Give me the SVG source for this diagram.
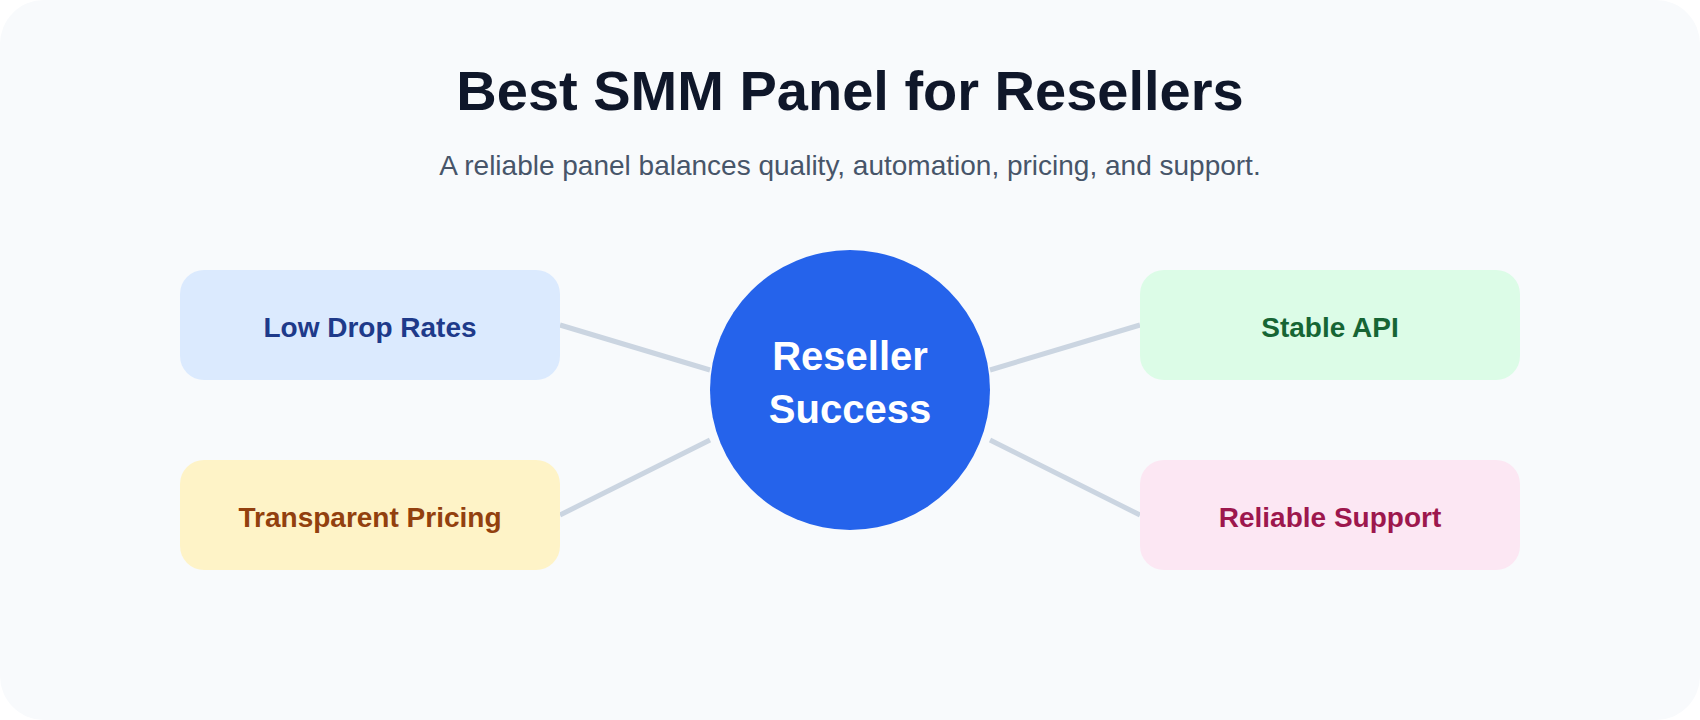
<svg xmlns="http://www.w3.org/2000/svg" width="1700" height="720" viewBox="0 0 1700 720">
<style>
text{font-family:"Liberation Sans",Arial,sans-serif;text-anchor:middle}
.t{font-size:56px;font-weight:bold;fill:#0f172a}
.s{font-size:28px;fill:#475569}
.l{font-size:28px;font-weight:bold}
.c{font-size:40px;font-weight:bold;fill:#fff}
.e{stroke:#cbd5e1;stroke-width:5;fill:none}
</style>
<rect x="0" y="0" width="1700" height="720" rx="44" fill="#f8fafc"/>
<text class="t" x="850" y="110">Best SMM Panel for Resellers</text>
<text class="s" x="850" y="175">A reliable panel balances quality, automation, pricing, and support.</text>
<g id="connectors">
<line class="e" x1="560" y1="325" x2="710" y2="370"/>
<line class="e" x1="560" y1="515" x2="710" y2="440"/>
<line class="e" x1="990" y1="370" x2="1140" y2="325"/>
<line class="e" x1="990" y1="440" x2="1140" y2="515"/>
</g>
<g id="low-drop"><rect x="180" y="270" width="380" height="110" rx="24" fill="#dbeafe"/><text class="l" x="370" y="337" fill="#1e3a8a">Low Drop Rates</text></g>
<g id="pricing"><rect x="180" y="460" width="380" height="110" rx="24" fill="#fef3c7"/><text class="l" x="370" y="527" fill="#92400e">Transparent Pricing</text></g>
<g id="api"><rect x="1140" y="270" width="380" height="110" rx="24" fill="#dcfce7"/><text class="l" x="1330" y="337" fill="#166534">Stable API</text></g>
<g id="support"><rect x="1140" y="460" width="380" height="110" rx="24" fill="#fce7f3"/><text class="l" x="1330" y="527" fill="#9d174d">Reliable Support</text></g>
<g id="center"><circle cx="850" cy="390" r="140" fill="#2563eb"/><text class="c" x="850" y="370">Reseller</text><text class="c" x="850" y="423">Success</text></g>
</svg>
